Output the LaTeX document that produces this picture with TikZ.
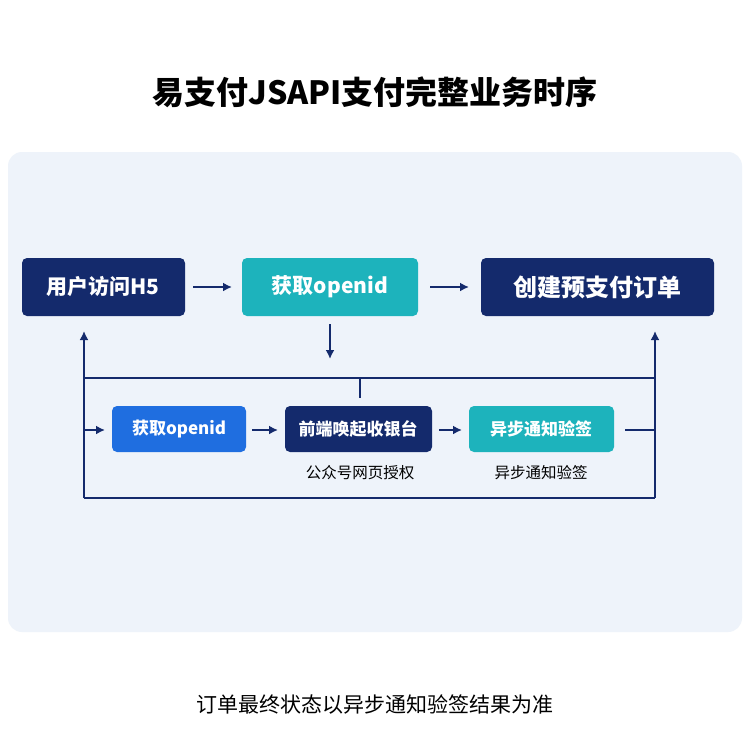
\documentclass[tikz,border=0pt]{standalone}
\usepackage{fontspec}
\setmainfont{Noto Sans CJK SC}
\usepackage{tikz}
\usetikzlibrary{arrows.meta}
\definecolor{navy}{HTML}{142A6C}
\definecolor{teal}{HTML}{1DB3BC}
\definecolor{bright}{HTML}{1F6EE0}
\definecolor{panel}{HTML}{EEF3FA}
\begin{document}
\begin{tikzpicture}[x=1pt,y=-1pt,
  box/.style={rounded corners=5pt, text=white, font=\bfseries},
  flow/.style={navy, line width=2.2pt, -{Latex[length=9pt,width=9pt]}},
  wire/.style={navy, line width=2.2pt}]
\useasboundingbox (0,0) rectangle (750,750);
\fill[white] (0,0) rectangle (750,750);
\fill[panel, rounded corners=14pt] (8,152) rectangle (742,632);
%title
\node[font=\bfseries\fontsize{32}{36}\selectfont] (title) at (375,92) {易支付JSAPI支付完整业务时序};
%top row
\fill[navy, rounded corners=5pt] (22,258) rectangle (185,316);
\node[box, font=\bfseries\fontsize{21}{24}\selectfont] (visit) at (103,287) {用户访问H5};
\fill[teal, rounded corners=5pt] (242,258) rectangle (418,316);
\node[box, font=\bfseries\fontsize{21}{24}\selectfont] (openid) at (330,287) {获取openid};
\fill[navy, rounded corners=5pt] (481,258) rectangle (714,316);
\node[box, font=\bfseries\fontsize{24}{27}\selectfont] (order) at (597,287) {创建预支付订单};
%bottom row
\fill[bright, rounded corners=5pt] (112,406) rectangle (246,452);
\node[box, font=\bfseries\fontsize{17}{20}\selectfont] (auth) at (179,429) {获取openid};
\fill[navy, rounded corners=5pt] (285,406) rectangle (432,452);
\node[box, font=\bfseries\fontsize{17}{20}\selectfont] (cashier) at (358,429) {前端唤起收银台};
\fill[teal, rounded corners=5pt] (469,406) rectangle (614,452);
\node[box, font=\bfseries\fontsize{17}{20}\selectfont] (notify) at (541,429) {异步通知验签};
\node[font=\fontsize{15.5}{18}\selectfont] (authlbl) at (360,473) {公众号网页授权};
\node[font=\fontsize{15.5}{18}\selectfont] (notifylbl) at (541,473) {异步通知验签};
%connectors
\coordinate (tl) at (84,378); \coordinate (tr) at (655,378);
\coordinate (bl) at (84,498); \coordinate (br) at (655,498);
\coordinate (stem) at (360,378); \coordinate (stemb) at (360,398);
\coordinate (ml) at (84,430); \coordinate (mr) at (655,430);
\draw[flow] (193,287) -- (232,287);
\draw[flow] (430,287) -- (469,287);
\draw[flow] (330,324) -- (330,359);
\draw[wire] (tl) -- (tr);
\draw[wire] (stem) -- (stemb);
\draw[wire] (bl) -- (br);
\draw[flow] (bl) -- (84,331);
\draw[flow] (br) -- (655,331);
\draw[flow] (ml) -- (105,430);
\draw[flow] (252,430) -- (278,430);
\draw[flow] (439,430) -- (462,430);
\draw[wire] (625,430) -- (mr);
%footer
\node[font=\fontsize{21}{24}\selectfont] (footer) at (375,704) {订单最终状态以异步通知验签结果为准};
\end{tikzpicture}
\end{document}
